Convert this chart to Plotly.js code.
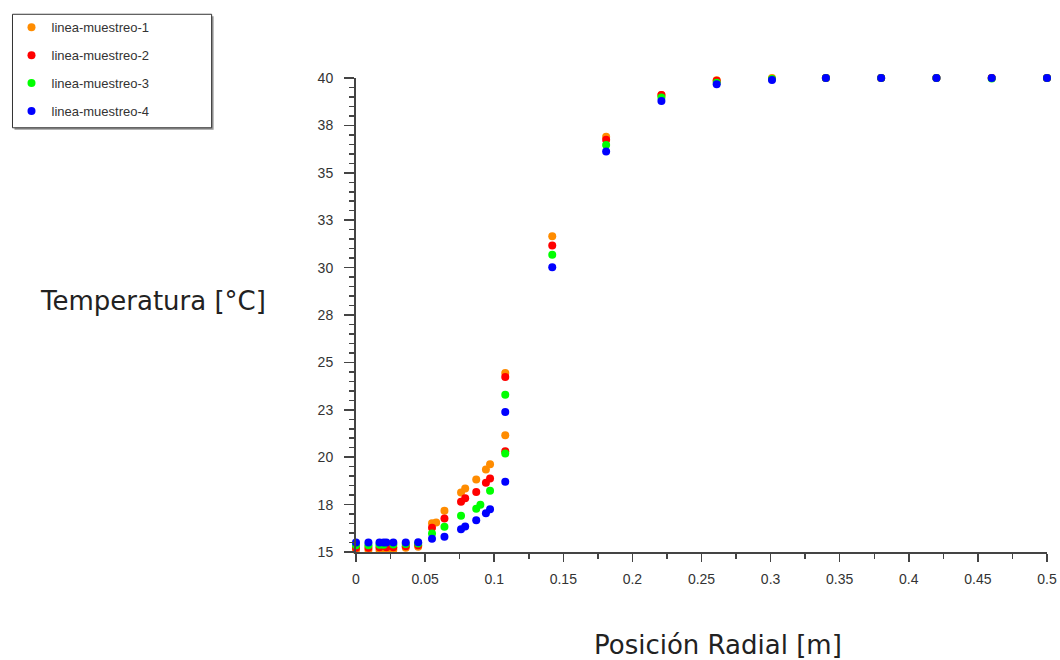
<!DOCTYPE html>
<html>
<head>
<meta charset="utf-8">
<script src="https://cdn.plot.ly/plotly-3.0.1.min.js"></script>
<style>html,body{margin:0;padding:0;background:#fff;}#chart{width:1060px;height:660px;}</style>
</head>
<body>
<div id="chart"></div>
<script>
// Radial positions [m]
var posicion = [0.0, 0.009, 0.017, 0.02, 0.022, 0.027, 0.036, 0.045, 0.055, 0.058, 0.064, 0.076, 0.079, 0.087, 0.09, 0.094, 0.097, 0.108, 0.108, 0.142, 0.181, 0.221, 0.261, 0.301, 0.34, 0.38, 0.42, 0.46, 0.5];
// Temperatures [°C]
var linea1 = [15.1, 15.1, 15.1, null, 15.1, 15.12, 15.22, 15.28, 16.51, 16.55, 17.17, 18.14, 18.35, 18.83, null, 19.35, 19.63, 21.16, 24.44, 31.65, 36.9, 39.1, 39.88, 40.0, 40.0, 40.0, 40.0, 40.0, 40.0];
var linea2 = [15.22, 15.22, 15.25, null, 15.25, 15.25, 15.3, 15.35, 16.28, null, 16.77, 17.65, 17.83, 18.17, null, 18.65, 18.88, 20.32, 24.23, 31.16, 36.74, 39.1, 39.85, 40.02, 40.0, 40.0, 40.0, 40.0, 40.0];
var linea3 = [15.36, 15.36, 15.38, 15.38, null, 15.4, 15.42, 15.45, 15.98, null, 16.33, 16.91, null, 17.28, 17.49, null, 18.23, 20.19, 23.3, 30.68, 36.47, 38.97, 39.75, 39.95, 40.0, 40.0, 40.0, 39.98, 40.0];
var linea4 = [15.5, 15.5, 15.5, 15.5, 15.5, 15.5, 15.5, 15.52, 15.7, null, 15.8, 16.2, 16.35, 16.68, null, 17.05, 17.25, 18.7, 22.38, 30.02, 36.12, 38.79, 39.67, 39.9, 40.0, 40.0, 40.0, 40.0, 40.0];

var nombres = ["linea-muestreo-1", "linea-muestreo-2", "linea-muestreo-3", "linea-muestreo-4"];
var colores = ["#FF8C00", "#FF0000", "#00FF00", "#0000FF"];
var series = [linea1, linea2, linea3, linea4];

var yTickVals = [15, 17.5, 20, 22.5, 25, 27.5, 30, 32.5, 35, 37.5, 40];
var yTickText = ["15", "18", "20", "23", "25", "28", "30", "33", "35", "38", "40"];
var xTickVals = [0, 0.05, 0.1, 0.15, 0.2, 0.25, 0.3, 0.35, 0.4, 0.45, 0.5];
var xTickText = ["0", "0.05", "0.1", "0.15", "0.2", "0.25", "0.3", "0.35", "0.4", "0.45", "0.5"];

var traces = series.map(function (s, i) {
  return {
    x: posicion, y: s, type: "scatter", mode: "markers", name: nombres[i],
    legendgroup: "g" + i,
    marker: {color: colores[i], size: 8},
    cliponaxis: false
  };
});

var W = 694, H = 476, L = 353, T = 76;
function px(x) { return (x - L) / W; }
function py(y) { return (T + H - y) / H; }

var layout = {
  width: 1060, height: 660,
  margin: {l: L, r: 1060 - L - W, t: T, b: 660 - T - H, pad: 0},
  paper_bgcolor: "#fff", plot_bgcolor: "#fff",
  font: {family: "Liberation Sans, Arial, sans-serif", size: 14, color: "#333"},
  showlegend: true,
  legend: {
    x: px(7), y: py(10), xanchor: "left", yanchor: "top",
    bgcolor: "rgba(0,0,0,0)", borderwidth: 0,
    font: {family: "Liberation Sans, Arial, sans-serif", size: 13, color: "#333"},
    tracegroupgap: 8, itemsizing: "trace"
  },
  xaxis: {
    range: [0, 0.5], showgrid: false, zeroline: false,
    showline: true, linecolor: "#444", linewidth: 2,
    ticks: "outside", ticklen: 8, tickwidth: 1.5, tickcolor: "#444",
    tickmode: "array", tickvals: xTickVals, ticktext: xTickText,
    tickfont: {size: 14, color: "#333"}, ticklabelstandoff: 5,
    minor: {dtick: 0.025, ticks: "outside", ticklen: 5, tickcolor: "#444", tickwidth: 1.5, showgrid: false}
  },
  yaxis: {
    range: [15, 40], showgrid: false, zeroline: false,
    showline: true, linecolor: "#444", linewidth: 2,
    ticks: "outside", ticklen: 10, tickwidth: 1.5, tickcolor: "#444",
    tickmode: "array", tickvals: yTickVals, ticktext: yTickText,
    tickfont: {size: 14, color: "#333"}, ticklabelstandoff: 8,
    minor: {dtick: 0.5, ticks: "outside", ticklen: 5, tickcolor: "#444", tickwidth: 1.5, showgrid: false}
  },
  shapes: [
    {type: "rect", xref: "paper", yref: "paper", x0: px(10), x1: px(210), y0: py(128), y1: py(14),
     line: {width: 0}, fillcolor: "#999", layer: "below"},
    {type: "rect", xref: "paper", yref: "paper", x0: px(8), x1: px(208), y0: py(126), y1: py(12),
     line: {width: 1, color: "#333"}, fillcolor: "#fff", layer: "below"}
  ],
  annotations: [
    {text: "Temperatura [°C]", xref: "paper", yref: "paper", x: px(149), y: py(300),
     xanchor: "center", yanchor: "middle", showarrow: false,
     font: {family: "DejaVu Sans, Open Sans, sans-serif", size: 26, color: "#222"}},
    {text: "Posición Radial [m]", xref: "paper", yref: "paper", x: px(717), y: py(645),
     xanchor: "center", yanchor: "middle", showarrow: false,
     font: {family: "DejaVu Sans, Open Sans, sans-serif", size: 26, color: "#222"}}
  ]
};

Plotly.newPlot("chart", traces, layout, {displayModeBar: false, staticPlot: true});
</script>
</body>
</html>
